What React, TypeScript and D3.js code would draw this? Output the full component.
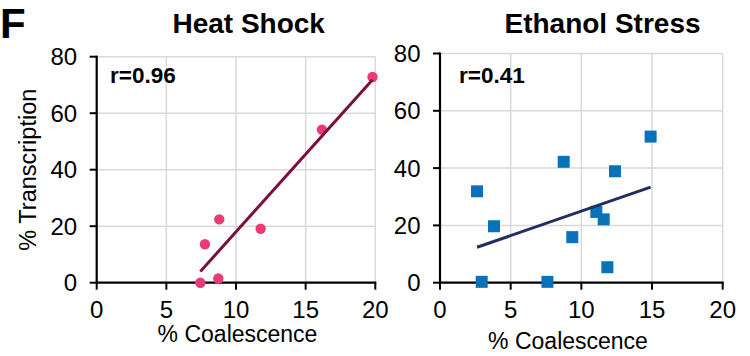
import React from "react";
import * as d3 from "d3";

// ---- data ----
const heatX = [7.44, 7.77, 8.73, 8.8, 11.77, 16.17, 19.8];
const heatY = [0, 13.6, 1.5, 22.4, 19.1, 54.2, 72.8];
const ethX = [2.62, 2.95, 3.82, 7.6, 8.75, 9.36, 11.06, 11.58, 11.84, 12.38, 14.9];
const ethY = [31.9, 0.3, 19.7, 0.3, 42.2, 15.9, 24.7, 22.1, 5.4, 38.9, 51];
const xTicks = [0, 5, 10, 15, 20];
const yTicks = [0, 20, 40, 60, 80];
const titles = ["Heat Shock", "Ethanol Stress"];
const rLabels = ["r=0.96", "r=0.41"];
const xLabel = "% Coalescence";
const yLabel = "% Transcription";
const panelLetter = "F";

const FONT = "'Liberation Sans', Arial, Helvetica, sans-serif";

function regression(xs: number[], ys: number[]) {
  const mx = d3.mean(xs)!;
  const my = d3.mean(ys)!;
  let sxy = 0, sxx = 0;
  xs.forEach((x, i) => {
    sxy += (x - mx) * (ys[i] - my);
    sxx += (x - mx) * (x - mx);
  });
  const b = sxy / sxx;
  const a = my - b * mx;
  const [x0, x1] = d3.extent(xs) as [number, number];
  return [
    [x0, a + b * x0],
    [x1, a + b * x1],
  ];
}

type PanelProps = {
  xs: number[];
  ys: number[];
  xRange: [number, number];
  yRange: [number, number];
  title: string;
  titleX: number;
  rLabel: string;
  rX: number;
  xLabelX: number;
  xLabelY: number;
  showYLabel: boolean;
  marker: "circle" | "square";
  color: string;
  lineColor: string;
};

function Panel(p: PanelProps) {
  const x = d3.scaleLinear().domain([0, 20]).range(p.xRange);
  const y = d3.scaleLinear().domain([0, 80]).range(p.yRange);
  const [x0, x1] = p.xRange;
  const [y0, y1] = p.yRange;
  const fit = regression(p.xs, p.ys);
  const line = d3
    .line<number[]>()
    .x((d) => x(d[0]))
    .y((d) => y(d[1]));
  return (
    <g>
      {/* grid */}
      {yTicks.slice(1).map((t) => (
        <line key={"gy" + t} x1={x0} x2={x1} y1={y(t)} y2={y(t)} stroke="#d9d9d9" strokeWidth={1.5} />
      ))}
      {xTicks.slice(1).map((t) => (
        <line key={"gx" + t} x1={x(t)} x2={x(t)} y1={y0} y2={y1} stroke="#d9d9d9" strokeWidth={1.5} />
      ))}
      {/* axes */}
      <line x1={x0} x2={x1 + 1} y1={y0} y2={y0} stroke="#000" strokeWidth={2.2} />
      <line x1={x0} x2={x0} y1={y0 + 1} y2={y1 - 1} stroke="#000" strokeWidth={2.2} />
      {xTicks.map((t) => (
        <line key={"tx" + t} x1={x(t)} x2={x(t)} y1={y0} y2={y0 + 7} stroke="#000" strokeWidth={2} />
      ))}
      {yTicks.map((t) => (
        <line key={"ty" + t} x1={x0 - 7} x2={x0} y1={y(t)} y2={y(t)} stroke="#000" strokeWidth={2} />
      ))}
      {xTicks.map((t) => (
        <text key={"lx" + t} x={x(t)} y={y0 + 35.5} textAnchor="middle" fontSize={24} fontFamily={FONT} fill="#000">
          {t}
        </text>
      ))}
      {yTicks.map((t) => (
        <text key={"ly" + t} x={x0 - 19.5} y={y(t)} dy="0.36em" textAnchor="end" fontSize={24} fontFamily={FONT} fill="#000">
          {t}
        </text>
      ))}
      {/* markers */}
      {p.xs.map((v, i) =>
        p.marker === "circle" ? (
          <circle key={"m" + i} cx={x(v)} cy={y(p.ys[i])} r={5.2} fill={p.color} />
        ) : (
          <rect key={"m" + i} x={x(v) - 6} y={y(p.ys[i]) - 6} width={12} height={12} fill={p.color} />
        )
      )}
      {/* fit */}
      <path d={line(fit) || ""} stroke={p.lineColor} strokeWidth={3} fill="none" />
      {/* labels */}
      <text x={p.rX} y={83.3} fontSize={22.5} fontWeight="bold" fontFamily={FONT} fill="#000">
        {p.rLabel}
      </text>
      <text x={p.titleX} y={33} textAnchor="middle" fontSize={28} fontWeight="bold" fontFamily={FONT} fill="#000">
        {p.title}
      </text>
      <text x={p.xLabelX} y={p.xLabelY} textAnchor="middle" fontSize={23} fontFamily={FONT} fill="#000">
        {xLabel}
      </text>
      {p.showYLabel && (
        <text
          transform={`translate(35.5,${(y0 + y1) / 2}) rotate(-90)`}
          textAnchor="middle"
          fontSize={23.5}
          fontFamily={FONT}
          fill="#000"
        >
          {yLabel}
        </text>
      )}
    </g>
  );
}

export default function App() {
  return (
    <svg
      width={750}
      height={356}
      style={{ position: "absolute", left: 0, top: 0, background: "#fff" }}
    >
      <rect width={750} height={356} fill="#fff" />
      <text x={0} y={38} fontSize={42} fontWeight="bold" fontFamily={FONT} fill="#000">
        {panelLetter}
      </text>
      <Panel
        xs={heatX}
        ys={heatY}
        xRange={[96.7, 375.3]}
        yRange={[282.7, 56.7]}
        title={titles[0]}
        titleX={248.7}
        rLabel={rLabels[0]}
        rX={110}
        xLabelX={237.5}
        xLabelY={342}
        showYLabel={true}
        marker="circle"
        color="#ea3a78"
        lineColor="#7b1040"
      />
      <Panel
        xs={ethX}
        ys={ethY}
        xRange={[440, 722.7]}
        yRange={[282.7, 53.5]}
        title={titles[1]}
        titleX={602.5}
        rLabel={rLabels[1]}
        rX={459}
        xLabelX={568}
        xLabelY={348.5}
        showYLabel={false}
        marker="square"
        color="#0a72b8"
        lineColor="#1f2f5e"
      />
    </svg>
  );
}
